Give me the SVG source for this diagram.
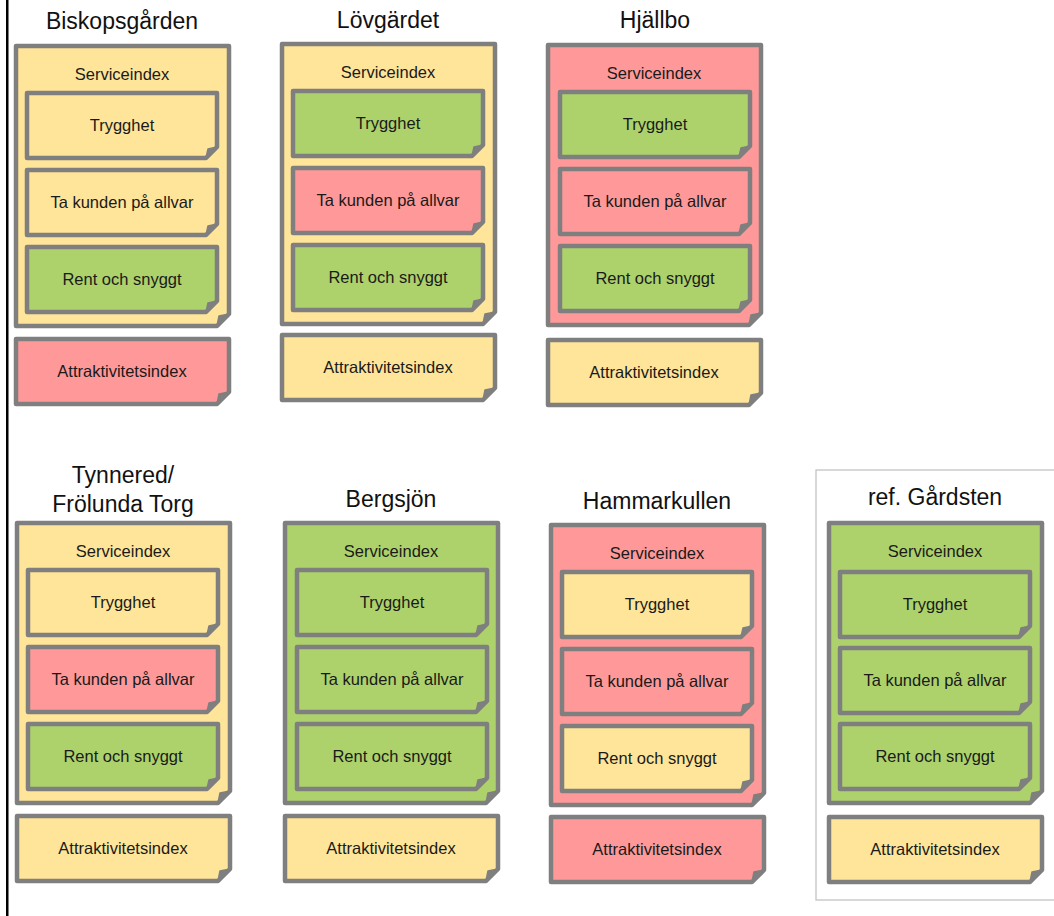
<svg xmlns="http://www.w3.org/2000/svg" xmlns:xlink="http://www.w3.org/1999/xlink" width="1054" height="916" viewBox="0 0 1054 916">
<style>
.title{font-family:"Liberation Sans",Arial,sans-serif;font-size:23px;fill:#111;text-anchor:middle}
.lbl{font-family:"Liberation Sans",Arial,sans-serif;font-size:16.5px;fill:#1a1a1a;text-anchor:middle}
.Y{fill:#FFE599}
.G{fill:#ADD26B}
.R{fill:#FF9999}
.shape{stroke:#7F7F7F;stroke-width:4.5;stroke-linejoin:round}
.fold{fill:#7F7F7F;stroke:#7F7F7F;stroke-width:1.5;stroke-linejoin:round}
</style>
<defs>
<path id="outer" class="shape" d="M0,0 H213 V268 L201,280 H0 Z"/>
<polygon id="outerFold" class="fold" points="201,280 213,268 203,270"/>
<path id="inner" class="shape" d="M0,0 H190 V54 L179,65 H0 Z"/>
<polygon id="innerFold" class="fold" points="179,65 190,54 181,56"/>
<path id="attr" class="shape" d="M0,0 H213 V53 L201,65 H0 Z"/>
<polygon id="attrFold" class="fold" points="201,65 213,53 203,55"/>
</defs>
<rect x="6" y="0" width="2.5" height="916" fill="#000"/>
<rect x="816" y="470" width="250" height="430" fill="none" stroke="#BFBFBF" stroke-width="1.2"/>

<g id="biskopsgarden" transform="translate(16,46)">
<text class="title" x="106" y="-17">Biskopsgården</text>
<use xlink:href="#outer" class="Y"/><use xlink:href="#outerFold"/>
<text class="lbl" x="106" y="34">Serviceindex</text>
<g transform="translate(11,47)"><use xlink:href="#inner" class="Y"/><use xlink:href="#innerFold"/><text class="lbl" x="95" y="38">Trygghet</text></g>
<g transform="translate(11,124)"><use xlink:href="#inner" class="Y"/><use xlink:href="#innerFold"/><text class="lbl" x="95" y="38">Ta kunden på allvar</text></g>
<g transform="translate(11,201)"><use xlink:href="#inner" class="G"/><use xlink:href="#innerFold"/><text class="lbl" x="95" y="38">Rent och snyggt</text></g>
<g transform="translate(0,293)"><use xlink:href="#attr" class="R"/><use xlink:href="#attrFold"/><text class="lbl" x="106" y="38">Attraktivitetsindex</text></g>
</g>

<g id="lovgardet" transform="translate(282,44)">
<text class="title" x="106" y="-16">Lövgärdet</text>
<use xlink:href="#outer" class="Y"/><use xlink:href="#outerFold"/>
<text class="lbl" x="106" y="34">Serviceindex</text>
<g transform="translate(11,47)"><use xlink:href="#inner" class="G"/><use xlink:href="#innerFold"/><text class="lbl" x="95" y="38">Trygghet</text></g>
<g transform="translate(11,124)"><use xlink:href="#inner" class="R"/><use xlink:href="#innerFold"/><text class="lbl" x="95" y="38">Ta kunden på allvar</text></g>
<g transform="translate(11,201)"><use xlink:href="#inner" class="G"/><use xlink:href="#innerFold"/><text class="lbl" x="95" y="38">Rent och snyggt</text></g>
<g transform="translate(0,291)"><use xlink:href="#attr" class="Y"/><use xlink:href="#attrFold"/><text class="lbl" x="106" y="38">Attraktivitetsindex</text></g>
</g>

<g id="hjallbo" transform="translate(548,45)">
<text class="title" x="107" y="-17">Hjällbo</text>
<use xlink:href="#outer" class="R"/><use xlink:href="#outerFold"/>
<text class="lbl" x="106" y="34">Serviceindex</text>
<g transform="translate(12,47)"><use xlink:href="#inner" class="G"/><use xlink:href="#innerFold"/><text class="lbl" x="95" y="38">Trygghet</text></g>
<g transform="translate(12,124)"><use xlink:href="#inner" class="R"/><use xlink:href="#innerFold"/><text class="lbl" x="95" y="38">Ta kunden på allvar</text></g>
<g transform="translate(12,201)"><use xlink:href="#inner" class="G"/><use xlink:href="#innerFold"/><text class="lbl" x="95" y="38">Rent och snyggt</text></g>
<g transform="translate(0,295)"><use xlink:href="#attr" class="Y"/><use xlink:href="#attrFold"/><text class="lbl" x="106" y="38">Attraktivitetsindex</text></g>
</g>

<g id="tynnered" transform="translate(17,523)">
<text class="title" x="106" y="-40">Tynnered/</text>
<text class="title" x="106" y="-11">Frölunda Torg</text>
<use xlink:href="#outer" class="Y"/><use xlink:href="#outerFold"/>
<text class="lbl" x="106" y="34">Serviceindex</text>
<g transform="translate(11,47)"><use xlink:href="#inner" class="Y"/><use xlink:href="#innerFold"/><text class="lbl" x="95" y="38">Trygghet</text></g>
<g transform="translate(11,124)"><use xlink:href="#inner" class="R"/><use xlink:href="#innerFold"/><text class="lbl" x="95" y="38">Ta kunden på allvar</text></g>
<g transform="translate(11,201)"><use xlink:href="#inner" class="G"/><use xlink:href="#innerFold"/><text class="lbl" x="95" y="38">Rent och snyggt</text></g>
<g transform="translate(0,293)"><use xlink:href="#attr" class="Y"/><use xlink:href="#attrFold"/><text class="lbl" x="106" y="38">Attraktivitetsindex</text></g>
</g>

<g id="bergsjon" transform="translate(285,523)">
<text class="title" x="106" y="-16">Bergsjön</text>
<use xlink:href="#outer" class="G"/><use xlink:href="#outerFold"/>
<text class="lbl" x="106" y="34">Serviceindex</text>
<g transform="translate(12,47)"><use xlink:href="#inner" class="G"/><use xlink:href="#innerFold"/><text class="lbl" x="95" y="38">Trygghet</text></g>
<g transform="translate(12,124)"><use xlink:href="#inner" class="G"/><use xlink:href="#innerFold"/><text class="lbl" x="95" y="38">Ta kunden på allvar</text></g>
<g transform="translate(12,201)"><use xlink:href="#inner" class="G"/><use xlink:href="#innerFold"/><text class="lbl" x="95" y="38">Rent och snyggt</text></g>
<g transform="translate(0,293)"><use xlink:href="#attr" class="Y"/><use xlink:href="#attrFold"/><text class="lbl" x="106" y="38">Attraktivitetsindex</text></g>
</g>

<g id="hammarkullen" transform="translate(551,525)">
<text class="title" x="106" y="-16">Hammarkullen</text>
<use xlink:href="#outer" class="R"/><use xlink:href="#outerFold"/>
<text class="lbl" x="106" y="34">Serviceindex</text>
<g transform="translate(11,47)"><use xlink:href="#inner" class="Y"/><use xlink:href="#innerFold"/><text class="lbl" x="95" y="38">Trygghet</text></g>
<g transform="translate(11,124)"><use xlink:href="#inner" class="R"/><use xlink:href="#innerFold"/><text class="lbl" x="95" y="38">Ta kunden på allvar</text></g>
<g transform="translate(11,201)"><use xlink:href="#inner" class="Y"/><use xlink:href="#innerFold"/><text class="lbl" x="95" y="38">Rent och snyggt</text></g>
<g transform="translate(0,292)"><use xlink:href="#attr" class="R"/><use xlink:href="#attrFold"/><text class="lbl" x="106" y="38">Attraktivitetsindex</text></g>
</g>

<g id="gardsten" transform="translate(829,523)">
<text class="title" x="106" y="-18">ref. Gårdsten</text>
<use xlink:href="#outer" class="G"/><use xlink:href="#outerFold"/>
<text class="lbl" x="106" y="34">Serviceindex</text>
<g transform="translate(11,49)"><use xlink:href="#inner" class="G"/><use xlink:href="#innerFold"/><text class="lbl" x="95" y="38">Trygghet</text></g>
<g transform="translate(11,125)"><use xlink:href="#inner" class="G"/><use xlink:href="#innerFold"/><text class="lbl" x="95" y="38">Ta kunden på allvar</text></g>
<g transform="translate(11,201)"><use xlink:href="#inner" class="G"/><use xlink:href="#innerFold"/><text class="lbl" x="95" y="38">Rent och snyggt</text></g>
<g transform="translate(0,294)"><use xlink:href="#attr" class="Y"/><use xlink:href="#attrFold"/><text class="lbl" x="106" y="38">Attraktivitetsindex</text></g>
</g>

<g id="connectors"></g>
</svg>
